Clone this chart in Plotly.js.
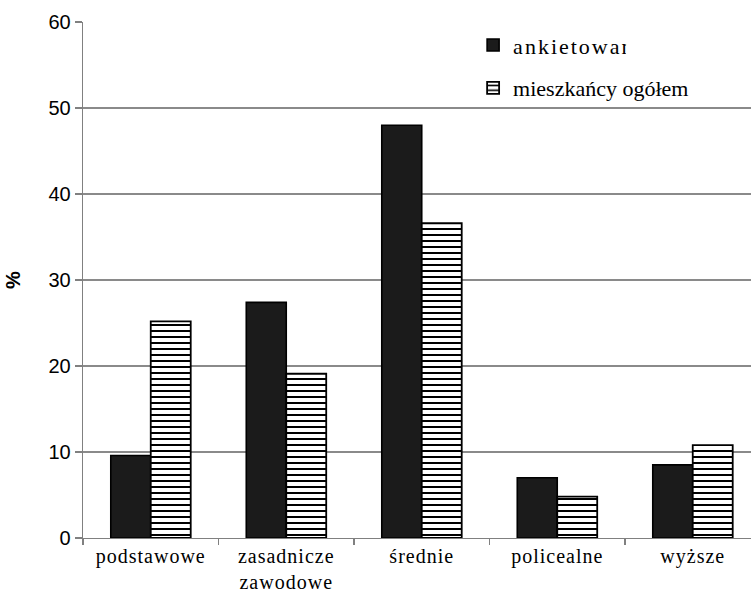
<!DOCTYPE html>
<html>
<head>
<meta charset="utf-8">
<script src="https://cdn.plot.ly/plotly-3.0.1.min.js"></script>
<style>
html,body{margin:0;padding:0;background:#fff;}
#chart{width:751px;height:610px;}
#chart .xtick text{font-family:'Liberation Serif','Times New Roman',serif !important;letter-spacing:1px;}
#chart .legendtext{font-family:'Liberation Serif','Times New Roman',serif !important;letter-spacing:2px;}
#chart .ytick text, #chart .ytitle{font-family:'Liberation Sans',Arial,sans-serif !important;}
</style>
</head>
<body>
<div id="chart"></div>
<script>
const categories = ['podstawowe', 'zasadnicze<br>zawodowe', 'średnie', 'policealne', 'wyższe'];
const ankietowani = [9.6, 27.4, 48.0, 7.0, 8.5];
const mieszkancy = [25.2, 19.1, 36.6, 4.8, 10.8];
const seriesNames = ['ankietowani', 'mieszkańcy ogółem'];

const serifFont = 'Liberation Serif';
const sansFont = 'Liberation Sans';

function draw() {
  const traces = [
    {
      type: 'bar', name: seriesNames[0], x: categories, y: ankietowani,
      marker: {color: '#1b1b1b', line: {color: '#000', width: 1.6}},
      legend: 'legend'
    },
    {
      type: 'bar', name: seriesNames[1], x: categories, y: mieszkancy,
      marker: {color: '#ffffff', line: {color: '#000', width: 1.8},
        pattern: {shape: '-', size: 6, solidity: 0.34, fgcolor: '#000', bgcolor: '#ffffff'}},
      legend: 'legend2'
    }
  ];

  const layout = {
    width: 751, height: 610,
    margin: {l: 83, r: 0, t: 22, b: 72},
    paper_bgcolor: '#fff', plot_bgcolor: '#fff',
    barmode: 'group', bargap: 0.41, bargroupgap: 0,
    showlegend: true,
    xaxis: {
      type: 'category', range: [-0.5, 4.43],
      tickson: 'boundaries', ticks: 'outside', ticklen: 6, tickcolor: '#808080', tickwidth: 1.3,
      showline: true, linecolor: '#808080', linewidth: 1.3,
      showgrid: false,
      tickfont: {family: serifFont, size: 20, color: '#000'}
    },
    yaxis: {
      range: [0, 60], dtick: 10,
      ticks: 'outside', ticklen: 7, tickcolor: '#808080', tickwidth: 1.3,
      showline: true, linecolor: '#808080', linewidth: 1.3,
      showgrid: true, gridcolor: '#8a8a8a', gridwidth: 1.3,
      zeroline: false,
      tickfont: {family: sansFont, size: 20, color: '#000'},
      title: {text: '<b>%</b>', font: {family: sansFont, size: 20, color: '#000'}, standoff: 22}
    },
    legend: {
      x: 0.584, xanchor: 'left', y: 0.955, yanchor: 'middle',
      bgcolor: 'rgba(0,0,0,0)', font: {family: serifFont, size: 22, color: '#000'}
    },
    legend2: {
      x: 0.584, xanchor: 'left', y: 0.872, yanchor: 'middle',
      bgcolor: 'rgba(0,0,0,0)', font: {family: serifFont, size: 22, color: '#000'}
    }
  };

  Plotly.newPlot('chart', traces, layout, {staticPlot: true});
}

let drawn = false;
function once() { if (!drawn) { drawn = true; draw(); } }
if (document.fonts && document.fonts.load) {
  document.fonts.load('20px "Liberation Serif"')
    .then(() => document.fonts.load('20px "Liberation Sans"'))
    .then(once, once);
} else {
  once();
}
</script>
</body>
</html>
